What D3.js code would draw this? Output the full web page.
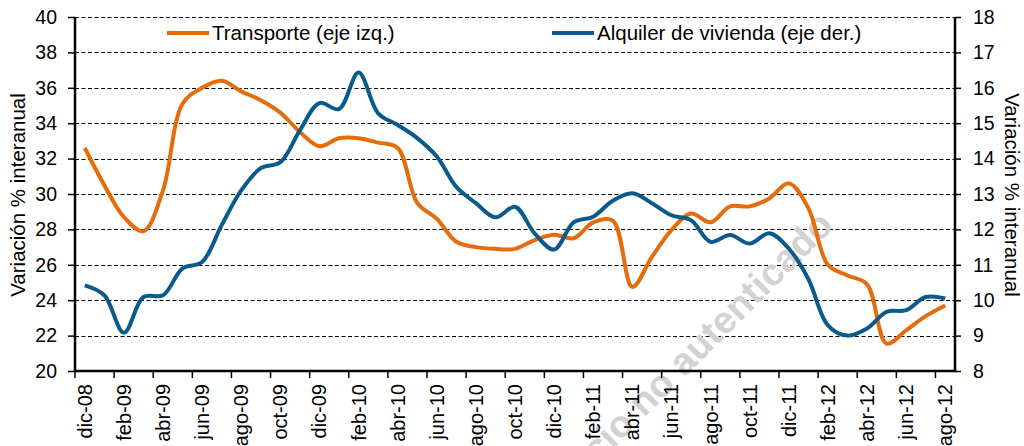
<!DOCTYPE html>
<html>
<head>
<meta charset="utf-8">
<script src="https://cdn.jsdelivr.net/npm/d3@7"></script>
<style>
    body { margin: 0; background: #fff; }
    #chart { width: 1024px; height: 446px; overflow: hidden; }
    text { font-family: "Liberation Sans", Arial, sans-serif; fill: #000; }
</style>
</head>
<body>
<div id="chart"></div>
<script>

// months (one point per month)
const months = [
    "dic-08",
    "ene-09", "feb-09", "mar-09", "abr-09", "may-09", "jun-09", "jul-09", "ago-09", "sep-09", "oct-09", "nov-09", "dic-09",
    "ene-10", "feb-10", "mar-10", "abr-10", "may-10", "jun-10", "jul-10", "ago-10", "sep-10", "oct-10", "nov-10", "dic-10",
    "ene-11", "feb-11", "mar-11", "abr-11", "may-11", "jun-11", "jul-11", "ago-11", "sep-11", "oct-11", "nov-11", "dic-11",
    "ene-12", "feb-12", "mar-12", "abr-12", "may-12", "jun-12", "jul-12", "ago-12"
];

// labels shown on the x axis (every other month)
const monthLabels = months.filter((d, i) => i % 2 === 0);

// Transporte (eje izq.)
const transporte = [
    32.6, 30.5, 28.7, 27.9, 30.2, 35.1, 36.0, 36.4, 35.8, 35.3, 34.6, 33.5,
    32.7, 33.15, 33.15, 32.9, 32.6, 29.5, 28.6, 27.3, 27.0, 26.9, 26.9, 27.4,
    27.7, 27.5, 28.4, 28.5, 24.75, 26.45, 27.96, 28.9, 28.4, 29.3, 29.3, 29.75,
    30.6, 29.2, 26.0, 25.4, 24.9, 21.55, 22.3, 23.1, 23.7
];

// Alquiler de vivienda (eje der.)
const alquiler = [
    10.42, 10.14, 9.08, 10.09, 10.14, 10.9, 11.08, 12.12, 13.1, 13.73, 13.9, 14.8,
    15.57, 15.4, 16.43, 15.28, 14.95, 14.58, 14.06, 13.2, 12.74, 12.34, 12.64, 11.89,
    11.43, 12.2, 12.36, 12.81, 13.02, 12.74, 12.4, 12.26, 11.65, 11.84, 11.6, 11.89,
    11.46, 10.6, 9.29, 9.0, 9.2, 9.67, 9.72, 10.09, 10.05
];

const leftTicks = [20, 22, 24, 26, 28, 30, 32, 34, 36, 38, 40];
const rightTicks = [8, 9, 10, 11, 12, 13, 14, 15, 16, 17, 18];

const seriesNames = ["Transporte (eje izq.)", "Alquiler de vivienda (eje der.)"];
const axisTitle = "Variación % interanual";
const watermark = "Servicio no autenticado";


class DualAxisChart {

    constructor(parentElement) {
        this.parentElement = parentElement;
        this.initVis();
    }

    initVis() {
        let vis = this;

        vis.margin = {top: 17, right: 69, bottom: 75, left: 75};
        vis.width = 1024 - vis.margin.left - vis.margin.right;
        vis.height = 446 - vis.margin.top - vis.margin.bottom;

        vis.svg = d3.select("#" + vis.parentElement).append("svg")
            .attr("width", 1024)
            .attr("height", 446)
            .append("g")
            .attr("transform", "translate(" + vis.margin.left + "," + vis.margin.top + ")");

        // category scale, one band per month
        vis.x = d3.scaleBand()
            .domain(months)
            .range([0, vis.width]);

        vis.yLeft = d3.scaleLinear().domain([20, 40]).range([vis.height, 0]);
        vis.yRight = d3.scaleLinear().domain([8, 18]).range([vis.height, 0]);

        vis.colors = {transporte: "#E46C0A", alquiler: "#0B5A8C"};

        vis.wrangleData();
    }

    wrangleData() {
        let vis = this;

        vis.transporteData = months.map((m, i) => ({month: m, value: transporte[i]}));
        vis.alquilerData = months.map((m, i) => ({month: m, value: alquiler[i]}));

        vis.updateVis();
    }

    updateVis() {
        let vis = this;

        // dashed grid lines
        vis.svg.append("g")
            .selectAll("line")
            .data(leftTicks.filter(d => d > 20))
            .enter().append("line")
            .attr("x1", 0)
            .attr("x2", vis.width)
            .attr("y1", d => Math.round(vis.yLeft(d)) + 0.5)
            .attr("y2", d => Math.round(vis.yLeft(d)) + 0.5)
            .attr("stroke", "#000")
            .attr("stroke-width", 1.2)
            .attr("stroke-dasharray", "4,2.5");

        // watermark
        vis.svg.append("text")
            .attr("transform", "translate(760,210) rotate(-45)")
            .attr("text-anchor", "end")
            .style("font-size", "38px")
            .style("font-weight", "bold")
            .style("fill", "#d2d2d2")
            .text(watermark);

        // left axis
        let leftAxis = d3.axisLeft(vis.yLeft)
            .tickValues(leftTicks)
            .tickSize(7)
            .tickPadding(11);
        let gl = vis.svg.append("g").call(leftAxis);
        gl.select(".domain").attr("stroke-width", 2.5).attr("d", "M0," + (vis.height + 1) + "V0");
        gl.selectAll(".tick line").attr("stroke-width", 1.5);
        gl.selectAll("text").style("font-size", "19.5px");

        // right axis
        let rightAxis = d3.axisRight(vis.yRight)
            .tickValues(rightTicks)
            .tickSize(6)
            .tickPadding(12);
        let gr = vis.svg.append("g")
            .attr("transform", "translate(" + vis.width + ",0)")
            .call(rightAxis);
        gr.select(".domain").attr("stroke-width", 2.5).attr("d", "M0," + (vis.height + 1) + "V0");
        gr.selectAll(".tick line").attr("stroke-width", 1.5);
        gr.selectAll("text").style("font-size", "19.5px");

        // bottom axis: tick marks between every other month, labels on the month
        let tickMonths = months.filter((d, i) => i % 2 === 0);
        let gx = vis.svg.append("g")
            .attr("transform", "translate(0," + vis.height + ")");
        gx.append("line")
            .attr("x1", -1)
            .attr("x2", vis.width + 1)
            .attr("stroke", "#000")
            .attr("stroke-width", 2.5);
        gx.selectAll(".xtick")
            .data(tickMonths)
            .enter().append("line")
            .attr("class", "xtick")
            .attr("x1", d => vis.x(d))
            .attr("x2", d => vis.x(d))
            .attr("y1", 0)
            .attr("y2", 7)
            .attr("stroke", "#000")
            .attr("stroke-width", 1.5);
        gx.selectAll(".xlabel")
            .data(monthLabels)
            .enter().append("text")
            .attr("class", "xlabel")
            .attr("transform", d => "translate(" + (vis.x(d) + vis.x.bandwidth() / 2) + ",13) rotate(-90)")
            .attr("text-anchor", "end")
            .attr("dy", "0.35em")
            .style("font-size", "20px")
            .text(d => d);

        // axis titles
        vis.svg.append("text")
            .attr("transform", "translate(-57," + (vis.height / 2 + 1) + ") rotate(-90)")
            .attr("text-anchor", "middle")
            .attr("dy", "0.35em")
            .style("font-size", "20.5px")
            .text(axisTitle);
        vis.svg.append("text")
            .attr("transform", "translate(" + (vis.width + 57) + "," + (vis.height / 2 + 1) + ") rotate(90)")
            .attr("text-anchor", "middle")
            .attr("dy", "0.35em")
            .style("font-size", "20.5px")
            .text(axisTitle);

        // lines
        let cx = d => vis.x(d.month) + vis.x.bandwidth() / 2;

        vis.lineLeft = d3.line()
            .x(cx)
            .y(d => vis.yLeft(d.value))
            .curve(d3.curveCatmullRom.alpha(0.5));
        vis.lineRight = d3.line()
            .x(cx)
            .y(d => vis.yRight(d.value))
            .curve(d3.curveCatmullRom.alpha(0.5));

        vis.svg.append("path")
            .datum(vis.transporteData)
            .attr("d", vis.lineLeft)
            .attr("fill", "none")
            .attr("stroke", vis.colors.transporte)
            .attr("stroke-width", 4)
            .attr("stroke-linejoin", "round");

        vis.svg.append("path")
            .datum(vis.alquilerData)
            .attr("d", vis.lineRight)
            .attr("fill", "none")
            .attr("stroke", vis.colors.alquiler)
            .attr("stroke-width", 4)
            .attr("stroke-linejoin", "round");

        // legend
        let legend = [
            {name: seriesNames[0], color: vis.colors.transporte, x: 92},
            {name: seriesNames[1], color: vis.colors.alquiler, x: 477}
        ];
        let lg = vis.svg.append("g")
            .selectAll("g")
            .data(legend)
            .enter().append("g")
            .attr("transform", d => "translate(" + d.x + ",16)");
        lg.append("rect")
            .attr("x", -3)
            .attr("y", -11)
            .attr("width", d => d.name.length * 9.2 + 52)
            .attr("height", 22)
            .attr("fill", "#fff");
        lg.append("line")
            .attr("x1", 0)
            .attr("x2", 42)
            .attr("stroke", d => d.color)
            .attr("stroke-width", 4);
        lg.append("text")
            .attr("x", 45)
            .attr("dy", "0.35em")
            .style("font-size", "20.5px")
            .text(d => d.name);
    }
}

new DualAxisChart("chart");

</script>
</body>
</html>
